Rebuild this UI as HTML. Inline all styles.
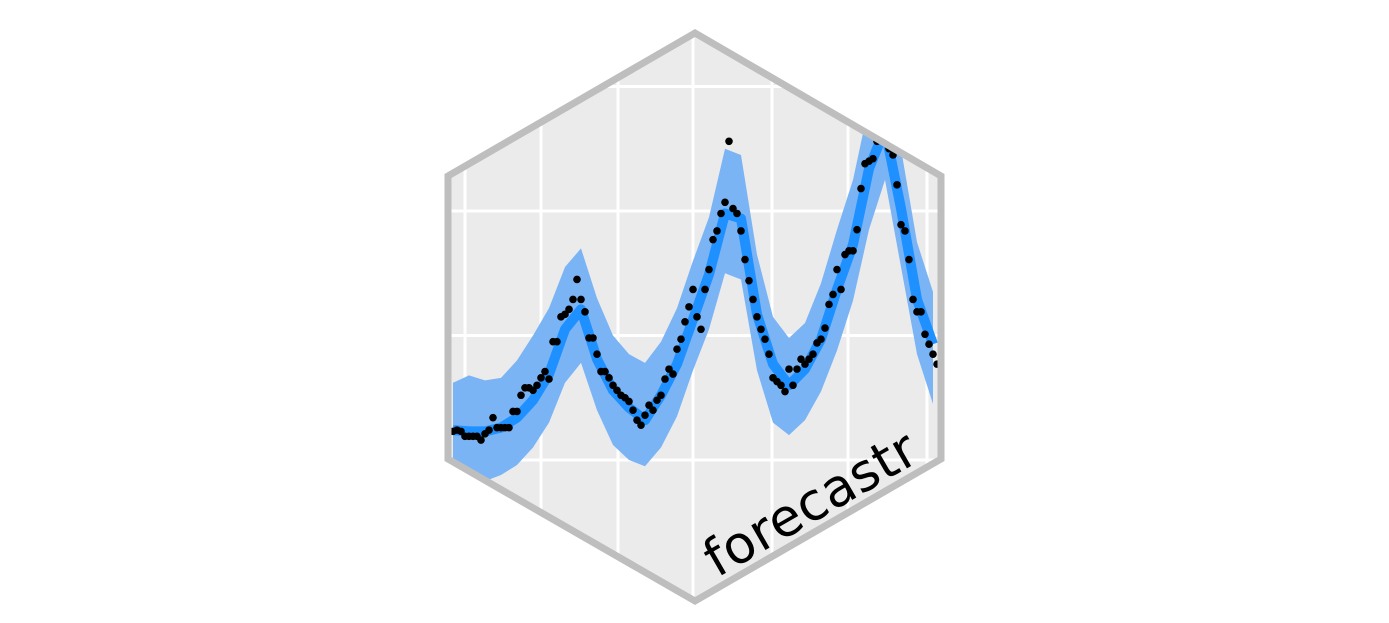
<!DOCTYPE html>
<html><head><meta charset="utf-8"><style>
html,body{margin:0;padding:0;background:#fff;}
svg{display:block;}
</style></head><body>
<svg id="logo" width="1389" height="623" viewBox="0 0 1389 623" xmlns="http://www.w3.org/2000/svg">
<defs><clipPath id="hexclip"><polygon points="695,33 941,176 941,459 695,601 448,459 448,176"/></clipPath></defs>
<g clip-path="url(#hexclip)">
<rect x="440" y="25" width="510" height="585" fill="#ebebeb"/>
<g id="grid"></g>
<g id="band"></g>
<g id="fit"></g>
<g id="dots"></g>
</g>
<polygon points="695,33 941,176 941,459 695,601 448,459 448,176" fill="none" stroke="#bebebe" stroke-width="7"/>
<text x="0" y="0" transform="translate(717,578) rotate(-30)" font-family="'DejaVu Sans','Liberation Sans',sans-serif" font-size="52" fill="#000" textLength="236">forecastr</text>
</svg>
<script>
var obs=[0.23,0.24,0.23,0.19,0.19,0.19,0.19,0.16,0.21,0.24,0.34,0.26,0.26,0.26,0.26,0.39,0.39,0.52,0.58,0.58,0.56,0.60,0.66,0.71,0.65,0.95,0.95,1.15,1.17,1.21,1.29,1.45,1.29,1.19,0.98,0.98,0.85,0.71,0.71,0.66,0.60,0.56,0.52,0.50,0.47,0.40,0.32,0.28,0.36,0.44,0.40,0.48,0.52,0.65,0.73,0.69,0.89,0.97,1.11,1.23,1.37,1.15,1.05,1.37,1.53,1.77,1.84,1.98,2.07,2.56,2.02,1.98,1.84,1.61,1.44,1.29,1.15,1.05,0.97,0.85,0.66,0.63,0.60,0.55,0.73,0.60,0.73,0.81,0.77,0.81,0.85,0.94,0.97,1.06,1.25,1.33,1.53,1.37,1.65,1.68,1.68,1.85,2.18,2.38,2.40,2.42,2.56,2.58,2.62,2.50,2.45,2.21,1.89,1.84,1.61,1.29,1.19,1.19,1.01,0.93,0.85,0.77];
var fitVals=[0.24,0.23,0.23,0.26,0.34,0.48,0.69,1.05,1.21,0.81,0.56,0.42,0.32,0.52,0.77,1.13,1.49,1.98,1.94,1.17,0.77,0.60,0.73,0.97,1.37,1.73,2.34,2.66,2.02,1.29,0.93];
var upperVals=[0.62,0.68,0.64,0.66,0.80,1.00,1.22,1.55,1.70,1.30,1.00,0.85,0.78,0.95,1.22,1.60,1.95,2.50,2.45,1.65,1.15,0.98,1.10,1.42,1.85,2.25,2.85,3.0,2.50,1.75,1.35];
var lowerVals=[-0.12,-0.14,-0.17,-0.12,-0.04,0.10,0.30,0.62,0.78,0.40,0.12,0.00,-0.05,0.10,0.35,0.72,1.05,1.50,1.45,0.72,0.30,0.20,0.32,0.55,0.88,1.28,1.85,2.25,1.55,0.85,0.45];
var fitStep=4;
var xGridTicks=[3,22,41.25,60,79.75,98.75,118.5];
var yGridTicks=[0,1,2,3];
function xs(t){return 453+4*t;}
function ys(v){return 460-v*124.5;}
var NS='http://www.w3.org/2000/svg';
var grid=document.getElementById('grid');
xGridTicks.forEach(function(t){
  var l=document.createElementNS(NS,'line');
  l.setAttribute('x1',xs(t));l.setAttribute('x2',xs(t));l.setAttribute('y1',20);l.setAttribute('y2',610);
  l.setAttribute('stroke','#fff');l.setAttribute('stroke-width',3);
  
  
  grid.appendChild(l);
});
yGridTicks.forEach(function(v){
  var l=document.createElementNS(NS,'line');
  l.setAttribute('x1',440);l.setAttribute('x2',950);l.setAttribute('y1',ys(v));l.setAttribute('y2',ys(v));
  l.setAttribute('stroke','#fff');l.setAttribute('stroke-width',3);
  
  
  grid.appendChild(l);
});
var up=[],lo=[],fl=[];
for(var i=0;i<fitVals.length;i++){
  var x=xs(i*fitStep);
  up.push(x+','+ys(upperVals[i]));
  lo.unshift(x+','+ys(lowerVals[i]));
  fl.push(x+','+ys(fitVals[i]));
}
var bp=document.createElementNS(NS,'polygon');
bp.setAttribute('points',up.concat(lo).join(' '));
bp.setAttribute('fill','#7ab4f5');


document.getElementById('band').appendChild(bp);
var pl=document.createElementNS(NS,'polyline');
pl.setAttribute('points',fl.join(' '));
pl.setAttribute('fill','none');pl.setAttribute('stroke','#1e90ff');pl.setAttribute('stroke-width',10);pl.setAttribute('stroke-linejoin','round');


document.getElementById('fit').appendChild(pl);
var dg=document.getElementById('dots');
obs.forEach(function(v,i){
  var c=document.createElementNS(NS,'circle');
  c.setAttribute('cx',xs(i));c.setAttribute('cy',ys(v));c.setAttribute('r',3.8);c.setAttribute('fill','#000');
  
  
  dg.appendChild(c);
});
</script>
</body></html>
